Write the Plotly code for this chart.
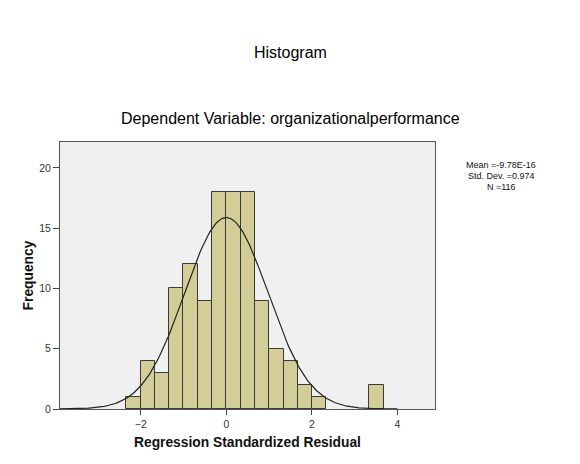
import numpy as np
import plotly.graph_objects as go

# Data
bin_width = 0.3343
bin_index = [-7, -6, -5, -4, -3, -2, -1, 0, 1, 2, 3, 4, 5, 6, 10]
counts = [1, 4, 3, 10, 12, 9, 18, 18, 18, 9, 5, 4, 2, 1, 2]
mean = 0.0
std_dev = 0.974
n_obs = 116
stats_lines = ["Mean =-9.78E-16", "Std. Dev. =0.974", "N =116"]
x_ticks = [-2, 0, 2, 4]
y_ticks = [0, 5, 10, 15, 20]

centers = [(k + 0.5) * bin_width for k in bin_index]

# fitted normal curve (from the reported statistics)
xc = np.linspace(-3.89, 4.0, 300)
yc = n_obs * bin_width / (std_dev * np.sqrt(2 * np.pi)) * np.exp(-0.5 * ((xc - mean) / std_dev) ** 2)

fig = go.Figure()
fig.add_trace(go.Bar(
    x=centers, y=counts, width=bin_width,
    marker=dict(color="#d3ce97", line=dict(color="#3a3a3a", width=1)),
    hoverinfo="skip",
))
fig.add_trace(go.Scatter(
    x=xc, y=yc, mode="lines",
    line=dict(color="#222222", width=1.2),
    hoverinfo="skip",
))

font_family = "Liberation Sans, Arial, sans-serif"

plot_top, plot_bottom = 141.7, 409.3
stats_px = [165.0, 176.0, 187.0]
stats_y = [(plot_bottom - p) / (plot_bottom - plot_top) for p in stats_px]

annotations = [
    dict(text="Histogram", xref="paper", yref="paper",
         x=0.614, y=1.335, showarrow=False,
         font=dict(size=16, color="#000000"), xanchor="center", yanchor="middle"),
    dict(text="Dependent Variable: organizationalperformance",
         xref="paper", yref="paper", x=0.614, y=1.0886, showarrow=False,
         font=dict(size=16, color="#000000"), xanchor="center", yanchor="middle"),
]
for line, yy in zip(stats_lines, stats_y):
    annotations.append(dict(text=line, xref="paper", yref="paper",
                            x=1.177, y=yy, showarrow=False, borderpad=0,
                            font=dict(size=9, color="#111111"),
                            xanchor="center", yanchor="middle"))

fig.update_layout(
    width=580, height=464,
    margin=dict(l=51.5, r=153, t=133.7, b=62.7),
    paper_bgcolor="white",
    plot_bgcolor="#f0f0f0",
    showlegend=False,
    bargap=0,
    font=dict(family=font_family, color="#222222"),
    xaxis=dict(
        range=[-3.89, 4.88],
        tickvals=x_ticks,
        ticks="outside", ticklen=5, tickcolor="#444444",
        tickfont=dict(size=10.5, color="#333333"),
        showgrid=False, zeroline=False,
        showline=True, linecolor="#555555", linewidth=1, mirror=True,
        title=dict(text="<b>Regression Standardized Residual</b>",
                   font=dict(size=13.8, color="#111111"), standoff=8),
    ),
    yaxis=dict(
        range=[0, 22.15],
        tickvals=y_ticks,
        ticks="outside", ticklen=6, tickcolor="#444444",
        tickfont=dict(size=10.5, color="#333333"),
        showgrid=False, zeroline=False,
        showline=True, linecolor="#555555", linewidth=1, mirror=True,
        title=dict(text="<b>Frequency</b>",
                   font=dict(size=13.8, color="#111111"), standoff=2),
    ),
    annotations=annotations,
)

fig.write_html("out.html")
